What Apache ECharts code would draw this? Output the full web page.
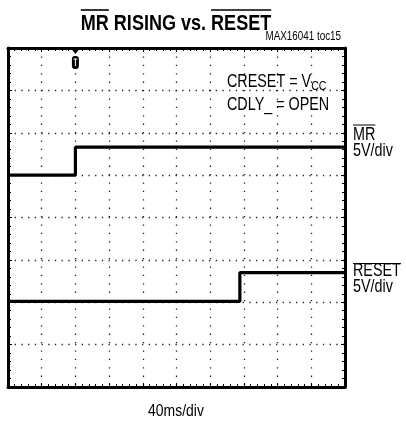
<!DOCTYPE html>
<html>
<head>
<meta charset="utf-8">
<script src="https://cdn.jsdelivr.net/npm/echarts@6/dist/echarts.min.js"></script>
<style>
  html, body { margin: 0; padding: 0; background: #fff; }
  #main { width: 406px; height: 421px; }
</style>
</head>
<body>
<div id="main"></div>
<script>
// scope screen: 10 divisions across (40ms/div), 8 divisions tall
var xDivs = 10, yDivs = 8;
var mrTime  = [0, 2.0, 2.0, 10];        // divisions
var mrLevel = [5.0, 5.0, 5.66, 5.66];   // divisions from bottom
var rsTime  = [0, 6.88, 6.88, 10];
var rsLevel = [2.02, 2.02, 2.70, 2.70];
var triggerAt = 2.0;

var FONT = '"Liberation Sans", Arial, sans-serif';
var NARROW = 0.82;   // squeeze to look like Arial Narrow

function pairs(xs, ys) {
  return xs.map(function (x, i) { return [x, ys[i]]; });
}

var ctx = document.createElement('canvas').getContext('2d');
function textWidth(str, size, weight) {
  ctx.font = (weight || 'normal') + ' ' + size + 'px ' + FONT;
  return ctx.measureText(str).width * NARROW;
}
// narrow text element, x is the anchor, y the vertical middle
function txt(str, x, y, size, weight, align) {
  return {
    type: 'text', x: x, y: y, scaleX: NARROW, originX: 0, originY: 0, z: 20,
    style: {
      text: str, font: (weight || 'normal') + ' ' + size + 'px ' + FONT, fill: '#000',
      align: align || 'left', verticalAlign: 'middle'
    }
  };
}
function overline(x1, x2, y, w) {
  return { type: 'line', shape: { x1: x1, y1: y, x2: x2, y2: y }, style: { stroke: '#000', lineWidth: w || 1 }, z: 20 };
}

var myChart = echarts.init(document.getElementById('main'));

function axisX(pos, grid) {
  return {
    type: 'value', min: 0, max: xDivs, interval: 1, position: pos,
    axisLine: { show: true, onZero: false, lineStyle: { color: '#000', width: 3 } },
    axisTick: { show: true, inside: true, length: 4, lineStyle: { color: '#000', width: 1 } },
    minorTick: { show: true, splitNumber: 5, length: 3, lineStyle: { color: '#000', width: 1 } },
    axisLabel: { show: false },
    splitLine: { show: grid, lineStyle: { color: '#222', width: 1.3, type: [1.3, 7.1] } }
  };
}
function axisY(pos, grid) {
  return {
    type: 'value', min: 0, max: yDivs, interval: 1, position: pos,
    axisLine: { show: true, onZero: false, lineStyle: { color: '#000', width: 3 } },
    axisTick: { show: true, inside: true, length: 4, lineStyle: { color: '#000', width: 1 } },
    minorTick: { show: true, splitNumber: 5, length: 3, lineStyle: { color: '#000', width: 1 } },
    axisLabel: { show: false },
    splitLine: { show: grid, lineStyle: { color: '#222', width: 1.3, type: [1.3, 5.4] } }
  };
}

var option = {
  animation: false,
  grid: { left: 8, right: 61, top: 48, bottom: 34 },
  xAxis: [axisX('bottom', true), axisX('top', false)],
  yAxis: [axisY('left', true), axisY('right', false)],
  series: [
    {
      name: 'MR', type: 'line', data: pairs(mrTime, mrLevel),
      showSymbol: false, lineStyle: { color: '#000', width: 3.2 }, z: 5
    },
    {
      name: 'RESET', type: 'line', data: pairs(rsTime, rsLevel),
      showSymbol: false, lineStyle: { color: '#000', width: 3.2 }, z: 5
    }
  ]
};
myChart.setOption(option);

// title with overlines on MR and RESET
var titleSize = 22;
var titleStr = 'MR RISING vs. RESET';
var tw = textWidth(titleStr, titleSize, 'bold');
var tx = 176 - tw / 2;
var mrW = textWidth('MR', titleSize, 'bold');
var rsW = textWidth('RESET', titleSize, 'bold');

var sz = 17.5;
var lblX = 353;
var vPart = 'CRESET = V';
var vW = textWidth(vPart, sz);

var trig = myChart.convertToPixel({ gridIndex: 0 }, [triggerAt, yDivs]);

var g = [
  txt(titleStr, tx, 23.5, titleSize, 'bold'),
  overline(tx, tx + mrW, 10, 1.6),
  overline(tx + tw - rsW, tx + tw, 10, 1.6),
  txt('MAX16041 toc15', 341, 36.5, 12, 'normal', 'right'),

  txt(vPart, 227, 82, sz),
  txt('CC', 227 + vW, 86, 13),
  txt('CDLY_ = OPEN', 227, 105, sz),

  txt('MR', lblX, 135, sz),
  overline(lblX, lblX + textWidth('MR', sz), 125),
  txt('5V/div', lblX, 151, sz),

  txt('RESET', lblX, 271.5, sz),
  overline(lblX, lblX + textWidth('RESET', sz), 263.5),
  txt('5V/div', lblX, 287, sz),

  txt('40ms/div', 176 - textWidth('40ms/div', 17) / 2, 411, 17),

  // trigger marker
  { type: 'polygon', shape: { points: [[trig[0] - 4, trig[1] + 1], [trig[0] + 4, trig[1] + 1], [trig[0], trig[1] + 6]] }, style: { fill: '#000' }, z: 10 },
  { type: 'rect', shape: { x: trig[0] - 3.5, y: trig[1] + 8, width: 7, height: 13, r: 3 }, style: { fill: '#000' }, z: 10 },
  { type: 'line', shape: { x1: trig[0] - 2, y1: trig[1] + 11, x2: trig[0] + 2, y2: trig[1] + 11 }, style: { stroke: '#fff', lineWidth: 1 }, z: 11 },
  { type: 'line', shape: { x1: trig[0], y1: trig[1] + 11, x2: trig[0], y2: trig[1] + 18 }, style: { stroke: '#fff', lineWidth: 1 }, z: 11 }
];
myChart.setOption({ graphic: g });
</script>
</body>
</html>
